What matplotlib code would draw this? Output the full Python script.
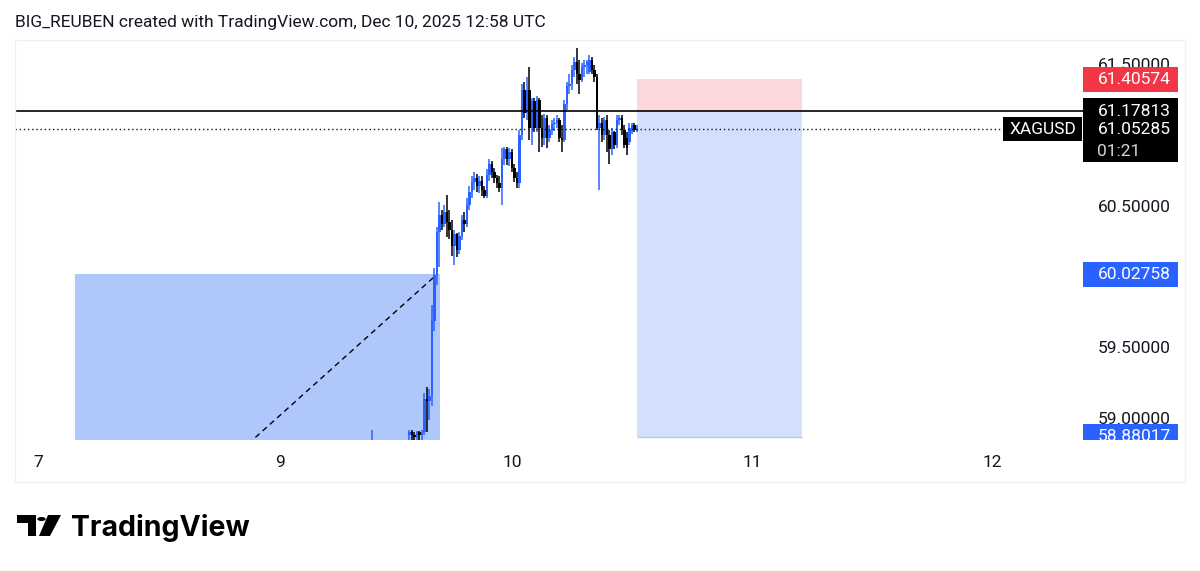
import numpy as np
import matplotlib.pyplot as plt
from matplotlib.patches import Rectangle, Polygon, Circle

plt.rcParams['font.family'] = ['Roboto', 'DejaVu Sans']

# 15 minute XAGUSD bars, time in hours from Dec 10 00:00 UTC
start_hour = -14.0
bar_hours = 0.25

opens = [58.78, 58.80, 58.79, 58.77, 58.76, 58.78, 58.80, 58.79, 58.81, 58.80, 58.78, 58.79, 58.81, 58.82, 58.81,
         58.89, 58.91, 58.89, 58.88, 58.91, 58.89, 58.91, 59.15, 59.13, 59.17,
         59.70, 60.02, 60.33, 60.45, 60.38, 60.47, 60.40, 60.34, 60.23, 60.31,
         60.20, 60.30, 60.41, 60.38, 60.52, 60.61, 60.68, 60.71, 60.65, 60.69,
         60.62, 60.58, 60.73, 60.81, 60.75, 60.71, 60.67, 60.64, 60.84, 60.91,
         60.84, 60.89, 60.78, 60.71, 60.67, 61.01, 61.33, 61.17, 61.33, 61.06,
         61.25, 61.06, 61.26, 61.06, 60.99, 61.13, 60.99, 61.05, 61.09, 61.10,
         61.12, 60.99, 60.98, 61.23, 61.36, 61.37, 61.47, 61.53, 61.44, 61.40,
         61.49, 61.51, 61.46, 61.54, 61.47, 61.42, 61.06, 61.10, 61.01, 61.12,
         61.01, 60.91, 61.03, 60.94, 61.12, 61.13, 61.05, 60.99, 60.96, 61.04,
         61.08, 61.04]
highs = [58.93, 58.82, 58.81, 58.79, 58.80, 58.82, 58.82, 58.83, 58.83, 58.82, 58.81, 58.83, 58.84, 58.84, 58.84,
         58.93, 58.93, 58.91, 58.92, 58.92, 58.93, 59.19, 59.23, 59.22, 59.81,
         60.07, 60.36, 60.54, 60.48, 60.52, 60.59, 60.48, 60.41, 60.34, 60.32,
         60.33, 60.45, 60.47, 60.57, 60.65, 60.72, 60.75, 60.74, 60.72, 60.72,
         60.65, 60.77, 60.84, 60.83, 60.78, 60.73, 60.72, 60.92, 60.93, 60.93,
         60.92, 60.91, 60.81, 60.75, 61.05, 61.37, 61.39, 61.42, 61.49, 61.27,
         61.27, 61.29, 61.27, 61.15, 61.16, 61.15, 61.08, 61.12, 61.13, 61.15,
         61.13, 61.08, 61.26, 61.39, 61.44, 61.51, 61.56, 61.63, 61.54, 61.52,
         61.54, 61.54, 61.58, 61.56, 61.51, 61.44, 61.15, 61.13, 61.14, 61.15,
         61.05, 61.06, 61.04, 61.15, 61.15, 61.15, 61.08, 61.03, 61.10, 61.10,
         61.10, 61.08]
lows = [58.74, 58.76, 58.75, 58.73, 58.74, 58.76, 58.77, 58.77, 58.78, 58.76, 58.76, 58.77, 58.79, 58.79, 58.79,
        58.84, 58.86, 58.84, 58.84, 58.85, 58.85, 58.89, 58.91, 59.00, 59.10,
        59.63, 59.95, 60.08, 60.34, 60.36, 60.29, 60.28, 60.16, 60.09, 60.15,
        60.17, 60.27, 60.33, 60.36, 60.48, 60.57, 60.62, 60.61, 60.60, 60.58,
        60.57, 60.57, 60.69, 60.71, 60.67, 60.64, 60.61, 60.52, 60.80, 60.80,
        60.79, 60.75, 60.68, 60.64, 60.64, 60.98, 61.13, 61.12, 60.98, 60.94,
        61.03, 61.03, 60.89, 60.93, 60.94, 60.92, 60.96, 61.01, 61.04, 61.06,
        60.96, 60.89, 60.96, 61.19, 61.30, 61.33, 61.42, 61.37, 61.30, 61.39,
        61.42, 61.44, 61.44, 61.44, 61.39, 61.05, 60.62, 60.96, 60.98, 60.89,
        60.81, 60.87, 60.91, 60.92, 61.08, 61.01, 60.92, 60.87, 60.94, 61.02,
        61.03, 61.03]
closes = [58.80, 58.79, 58.77, 58.76, 58.78, 58.80, 58.79, 58.81, 58.80, 58.78, 58.79, 58.81, 58.82, 58.81, 58.82,
          58.91, 58.89, 58.88, 58.91, 58.89, 58.91, 59.15, 59.13, 59.17, 59.70,
          60.02, 60.33, 60.45, 60.38, 60.47, 60.40, 60.34, 60.23, 60.31, 60.20,
          60.30, 60.41, 60.38, 60.52, 60.61, 60.68, 60.71, 60.65, 60.69, 60.62,
          60.58, 60.73, 60.81, 60.75, 60.71, 60.67, 60.64, 60.84, 60.91, 60.84,
          60.89, 60.78, 60.71, 60.67, 61.01, 61.33, 61.17, 61.33, 61.06, 61.25,
          61.06, 61.26, 61.06, 60.99, 61.13, 60.99, 61.05, 61.09, 61.10, 61.12,
          60.99, 60.98, 61.23, 61.36, 61.37, 61.47, 61.53, 61.44, 61.40, 61.49,
          61.51, 61.53, 61.54, 61.47, 61.42, 61.06, 61.10, 61.01, 61.12, 61.01,
          60.91, 61.03, 60.94, 61.12, 61.13, 61.05, 60.94, 60.92, 61.06, 61.08,
          61.05, 61.053]

day_labels = ['7', '9', '10', '11', '12']
day_pos = [-47.4, -23.2, 0, 24, 48]
price_ticks = [59.0, 59.5, 60.5, 61.5]

symbol = 'XAGUSD'
countdown = '01:21'
stop_level = 61.40574
entry_level = 61.17813
last_price = 61.05285
zone_top = 60.02758
target_level = 58.88017

# drawings: position tool on the right, zone + dashed trend on the left
pos_start, pos_end = 12.5, 29.0
zone_start, zone_end = -43.7, -7.2
trend_x = [-30.0, -7.5]
trend_y = [58.60, zone_top]

W, H = 1200, 571
xmin, xmax = -49.7, 57.1
ymin, ymax = 58.857, 61.648
blue = '#2962ff'
ink = '#131722'

fig = plt.figure(figsize=(W / 100, H / 100), dpi=100)
ax = fig.add_axes([15 / W, 1 - 440 / H, (1083 - 15) / W, (440 - 45) / H])
ax.set_xlim(xmin, xmax)
ax.set_ylim(ymin, ymax)
for s in ax.spines.values():
    s.set_visible(False)
ax.set_yticks([])
ax.set_xticks(day_pos, day_labels)
ax.tick_params(axis='x', length=0, pad=11, labelsize=12.5, colors=ink)

# candles
o, h, l, c = map(np.array, (opens, highs, lows, closes))
t = start_hour + bar_hours * np.arange(len(c))
cols = np.where(c >= o, blue, '#000000')
ax.vlines(t, l, h, colors=cols, lw=1.1, zorder=3)
ax.bar(t, np.maximum(np.abs(c - o), 0.007), bottom=np.minimum(o, c), width=0.27,
       color=cols, lw=0, zorder=3)

# left zone
ax.add_patch(Rectangle((zone_start, ymin - 1), zone_end - zone_start, zone_top - ymin + 1,
                       fc='#b0c7fc', ec='none', zorder=1))
ax.plot(trend_x, trend_y, color='black', ls=(0, (4, 3)), lw=1, zorder=2)

# short position tool
ax.add_patch(Rectangle((pos_start, entry_level), pos_end - pos_start, stop_level - entry_level,
                       fc='#fcd8db', ec='none', zorder=1))
ax.add_patch(Rectangle((pos_start, target_level), pos_end - pos_start, entry_level - target_level,
                       fc='#d2dffd', ec='none', zorder=1))
ax.hlines(target_level, pos_start, pos_end, color='#b5cafb', lw=1, zorder=1)

ax.axhline(entry_level, color='black', lw=1.2, zorder=4)
ax.hlines(last_price, xmin, 49.1, color=ink, lw=1, ls=(0, (1, 2)), zorder=4)
ax.add_patch(Rectangle((49.1, last_price - 0.085), 7.9, 0.17, fc='black', ec='none', zorder=5))
ax.text(53.05, last_price, symbol, color='white', ha='center', va='center', fontsize=12.5, zorder=6)

# price scale
pax = fig.add_axes([1083 / W, 1 - 440 / H, (1185 - 1083) / W, (440 - 45) / H])
pax.set_xlim(0, 102)
pax.set_ylim(ymin, ymax)
pax.axis('off')
for p in price_ticks:
    pax.text(88, p, f'{p:.5f}', ha='right', va='center', fontsize=12.5, color=ink, clip_on=True, zorder=2)

half = 0.088
for lvl, fc in [(stop_level, '#f23645'), (zone_top, blue), (target_level, blue)]:
    pax.add_patch(Rectangle((0, lvl - half), 95, 2 * half, fc=fc, ec='none', zorder=3))
    pax.text(88, lvl, f'{lvl:.5f}', ha='right', va='center', fontsize=12.5, color='white',
             clip_on=True, zorder=4)
pax.add_patch(Rectangle((0, 60.822), 95, 61.274 - 60.822, fc='black', ec='none', zorder=3))
pax.text(88, entry_level, f'{entry_level:.5f}', ha='right', va='center', fontsize=12.5, color='white', zorder=4)
pax.text(88, last_price, f'{last_price:.5f}', ha='right', va='center', fontsize=12.5, color='white', zorder=4)
pax.text(14, 60.899, countdown, ha='left', va='center', fontsize=12.5, color='#d1d4dc', zorder=4)

# frame, title, logo
fig.add_artist(Rectangle((15 / W, 1 - 482 / H), (1185 - 15) / W, (482 - 40) / H,
                         transform=fig.transFigure, fill=False, ec='#eef0f5', lw=1))
fig.text(15 / W, 1 - 22 / H, 'BIG_REUBEN created with TradingView.com, Dec 10, 2025 12:58 UTC',
         fontsize=12.5, color=ink, va='center', ha='left')


def px(pts):
    return [(x / W, 1 - y / H) for x, y in pts]


fig.add_artist(Polygon(px([(17, 515), (36, 515), (36, 536), (28, 536), (28, 523), (17, 523)]),
                       transform=fig.transFigure, fc='black', ec='none'))
fig.add_artist(Polygon(px([(48, 515), (61, 515), (50, 536), (39, 536)]),
                       transform=fig.transFigure, fc='black', ec='none'))
fig.add_artist(Circle((41.5 / W, 1 - 519 / H), 4.2 / W, transform=fig.transFigure, fc='black', ec='none'))
fig.text(71 / W, 1 - 536 / H, 'TradingView', fontsize=20.5, fontweight='bold', color='black',
         va='baseline', ha='left', family=['Inter', 'DejaVu Sans'])

fig.savefig('out.png', dpi=100, facecolor='white')
